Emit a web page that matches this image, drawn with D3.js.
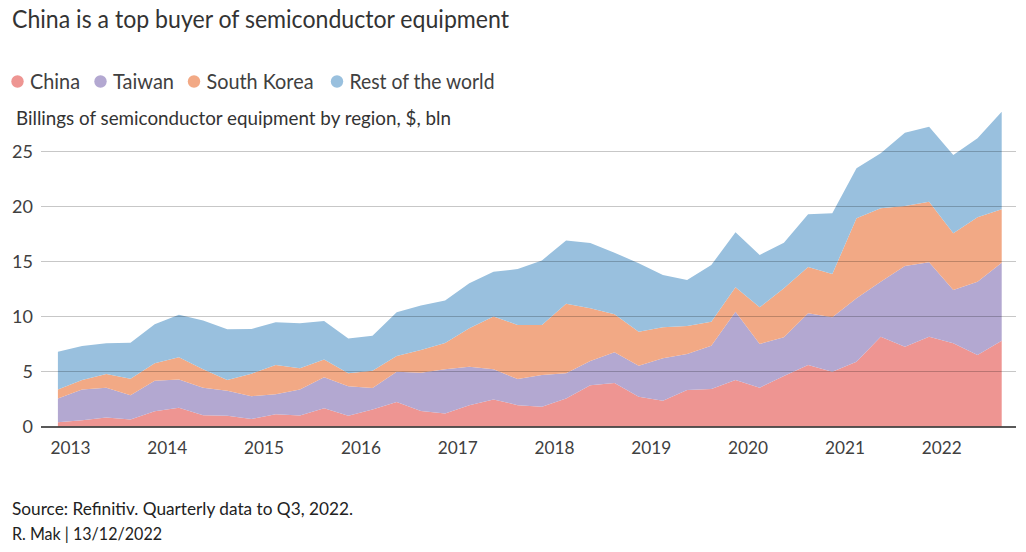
<!DOCTYPE html>
<html><head><meta charset="utf-8">
<script src="https://cdn.jsdelivr.net/npm/d3@7"></script>
<style>
body{margin:0;background:#fff}
svg{display:block}
text{font-family:Lato,"Open Sans",sans-serif}
</style>
</head><body>
<svg id="c" width="1026" height="552"></svg>
<script>
// ---- data (quarterly, $ bln) ----
const quarters = ["2012-Q4",
 "2013-Q1","2013-Q2","2013-Q3","2013-Q4",
 "2014-Q1","2014-Q2","2014-Q3","2014-Q4",
 "2015-Q1","2015-Q2","2015-Q3","2015-Q4",
 "2016-Q1","2016-Q2","2016-Q3","2016-Q4",
 "2017-Q1","2017-Q2","2017-Q3","2017-Q4",
 "2018-Q1","2018-Q2","2018-Q3","2018-Q4",
 "2019-Q1","2019-Q2","2019-Q3","2019-Q4",
 "2020-Q1","2020-Q2","2020-Q3","2020-Q4",
 "2021-Q1","2021-Q2","2021-Q3","2021-Q4",
 "2022-Q1","2022-Q2","2022-Q3"];
const china = [0.39,0.57,0.82,0.64,1.39,1.70,1.03,0.97,0.68,1.12,
 1.00,1.67,0.97,1.55,2.22,1.42,1.18,1.94,2.46,1.94,
 1.79,2.55,3.76,3.95,2.71,2.35,3.32,3.41,4.23,3.53,
 4.59,5.59,4.98,5.89,8.16,7.25,8.16,7.56,6.50,7.80];
const taiwan = [2.16,2.80,2.70,2.21,2.77,2.58,2.49,2.28,2.07,1.82,
 2.37,2.80,2.70,1.94,2.76,3.47,4.02,3.49,2.74,2.37,
 2.89,2.28,2.19,2.80,2.82,3.85,3.27,3.94,6.21,3.97,
 3.52,4.70,4.95,5.76,5.00,7.34,6.77,4.85,6.66,7.09];
const southKorea = [0.82,0.85,1.25,1.49,1.58,2.01,1.68,0.97,2.05,2.65,
 1.92,1.63,1.16,1.58,1.43,2.07,2.40,3.50,4.79,4.92,
 4.55,6.32,4.81,3.45,3.09,2.82,2.55,2.18,2.21,3.33,
 4.45,4.21,3.93,7.28,6.68,5.46,5.51,5.15,5.86,4.86];
const restOfWorld = [3.43,3.10,2.80,3.28,3.56,3.86,4.43,4.62,4.06,3.89,
 4.10,3.50,3.16,3.19,3.98,4.03,3.85,4.10,4.08,5.08,
 5.87,5.77,5.92,5.60,6.22,4.75,4.18,5.15,5.00,4.76,
 4.15,4.80,5.52,4.54,5.00,6.66,6.81,7.12,7.18,8.87];
const seriesNames = ["China","Taiwan","South Korea","Rest of the world"];
const yearTicks = [2013,2014,2015,2016,2017,2018,2019,2020,2021,2022];
const yTicks = [0,5,10,15,20,25];

// ---- styles ----
const colors = ["#ee9592","#b3a8d1","#f2a985","#99c0de"];
const textColor = "#404040";

const svg = d3.select("#c");
const keys = ["china","taiwan","southKorea","restOfWorld"];
const rows = quarters.map((q,i)=>{
  const [yr,qq] = q.split("-Q");
  return {t:+yr + (+qq-1)*0.25 + 0.125, china:china[i], taiwan:taiwan[i], southKorea:southKorea[i], restOfWorld:restOfWorld[i]};
});
const stacked = d3.stack().keys(keys)(rows);

const x = d3.scaleLinear().domain([2012.875, 2022.625]).range([57.9, 1001.7]);
const y = d3.scaleLinear().domain([0, 25]).range([426.5, 151.5]);

const area = d3.area().x(d=>x(d.data.t)).y0(d=>y(d[0])).y1(d=>y(d[1]));

svg.append("g").selectAll("path").data(stacked).join("path")
  .attr("d", area).attr("fill",(d,i)=>colors[i]);

// gridlines on top
svg.append("g").selectAll("line").data(yTicks.filter(v=>v>0)).join("line")
  .attr("x1",41).attr("x2",1016).attr("y1",d=>y(d)).attr("y2",d=>y(d))
  .attr("stroke","#000").attr("stroke-opacity",0.22).attr("stroke-width",1.2);

// baseline
svg.append("line").attr("x1",41).attr("x2",1016).attr("y1",y(0)+0.5).attr("y2",y(0)+0.5)
  .attr("stroke","#222").attr("stroke-width",1.6);

// y axis labels
const yAxis = d3.axisLeft(y).tickValues(yTicks).tickSize(0).tickPadding(0);
const gy = svg.append("g").attr("transform","translate(33,0)").call(yAxis);
gy.select(".domain").remove();
gy.selectAll("text").attr("font-size",18).attr("fill",textColor).attr("font-family","Lato").attr("dy","0.36em");

// x axis labels
const xAxis = d3.axisBottom(x).tickValues(yearTicks).tickFormat(d3.format("d")).tickSize(0).tickPadding(0);
const gx = svg.append("g").attr("transform","translate(0,441)").call(xAxis);
gx.select(".domain").remove();
gx.selectAll("text").attr("font-size",18).attr("fill",textColor).attr("font-family","Lato").attr("dy","0.72em")
  .attr("textLength",40).attr("lengthAdjust","spacingAndGlyphs");

function txt(s, xp, yp, size, w, color){
  return svg.append("text").attr("x",xp).attr("y",yp).attr("font-size",size)
    .attr("fill",color||textColor).attr("textLength",w).attr("lengthAdjust","spacingAndGlyphs").text(s);
}

txt("China is a top buyer of semiconductor equipment", 12, 28, 25, 497, "#333");

// legend
const legX = [17.5, 100.5, 194, 337];
const legW = [50, 61, 107, 145];
seriesNames.forEach((n,i)=>{
  svg.append("circle").attr("cx",legX[i]).attr("cy",81.5).attr("r",6.2).attr("fill",colors[i]);
  txt(n, legX[i]+12.5, 89, 21, legW[i], "#404040");
});

txt("Billings of semiconductor equipment by region, $, bln", 16, 125, 19, 435, "#333");

txt("Source: Refinitiv. Quarterly data to Q3, 2022.", 12, 515, 17, 341, "#222");
txt("R. Mak | 13/12/2022", 12, 540, 17, 150, "#222");
</script>
</body></html>
